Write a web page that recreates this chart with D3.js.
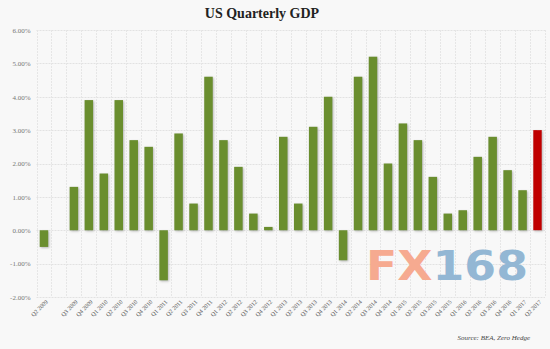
<!DOCTYPE html>
<html>
<head>
<meta charset="utf-8">
<script src="https://cdn.jsdelivr.net/npm/d3@7"></script>
<style>
  html, body { margin: 0; padding: 0; background: #f8f8f8; }
  svg { display: block; }
</style>
</head>
<body>
<script>
const categories = ["Q2 2009", "", "Q3 2009", "Q4 2009", "Q1 2010", "Q2 2010", "Q3 2010", "Q4 2010",
  "Q1 2011", "Q2 2011", "Q3 2011", "Q4 2011", "Q1 2012", "Q2 2012", "Q3 2012", "Q4 2012",
  "Q1 2013", "Q2 2013", "Q3 2013", "Q4 2013", "Q1 2014", "Q2 2014", "Q3 2014", "Q4 2014",
  "Q1 2015", "Q2 2015", "Q3 2015", "Q4 2015", "Q1 2016", "Q2 2016", "Q3 2016", "Q4 2016",
  "Q1 2017", "Q2 2017"];
const gdpValues = [-0.5, null, 1.3, 3.9, 1.7, 3.9, 2.7, 2.5, -1.5, 2.9, 0.8, 4.6, 2.7, 1.9, 0.5, 0.1,
  2.8, 0.8, 3.1, 4.0, -0.9, 4.6, 5.2, 2.0, 3.2, 2.7, 1.6, 0.5, 0.6, 2.2, 2.8, 1.8, 1.2, 3.0];
const highlightIndex = [33];
const yTicks = [-2, -1, 0, 1, 2, 3, 4, 5, 6];
const titleText = "US Quarterly GDP";
const sourceText = "Source: BEA, Zero Hedge";

(function () {
const W = 550, H = 349;
const mLeft = 36.5, mRight = 545, mTop = 30, mBottom = 297;

const svg = d3.select("body").append("svg").attr("width", W).attr("height", H);
svg.append("rect").attr("width", W).attr("height", H).attr("fill", "#f8f8f8");

const defs = svg.append("defs");
const f = defs.append("filter").attr("id", "shadow").attr("x", "-50%").attr("y", "-10%").attr("width", "200%").attr("height", "130%");
f.append("feDropShadow").attr("dx", 1).attr("dy", 1).attr("stdDeviation", 0.8)
  .attr("flood-color", "#666").attr("flood-opacity", 0.45);

const x = d3.scaleBand().domain(d3.range(categories.length)).range([mLeft, mRight]).paddingInner(0.43).paddingOuter(0.215);
const xb = d3.scaleBand().domain(d3.range(categories.length)).range([mLeft, mRight]);
const y = d3.scaleLinear().domain([-2, 6]).range([mBottom, mTop]);

// grid
const grid = svg.append("g");
grid.selectAll("line.h").data(yTicks).join("line")
  .attr("x1", mLeft).attr("x2", mRight)
  .attr("y1", d => Math.round(y(d)) + 0.5).attr("y2", d => Math.round(y(d)) + 0.5)
  .attr("stroke", "#e2e2e2").attr("stroke-width", 1).attr("stroke-dasharray", "2,1");
const vb = d3.range(categories.length + 1).map(i => i === categories.length ? mRight : xb(i));
grid.selectAll("line.v").data(vb).join("line")
  .attr("x1", d => Math.round(d) + 0.5).attr("x2", d => Math.round(d) + 0.5)
  .attr("y1", mTop).attr("y2", mBottom)
  .attr("stroke", "#e6e6e6").attr("stroke-width", 1).attr("stroke-dasharray", "2,1");

// y axis labels
const yAxis = d3.axisLeft(y).tickValues(yTicks).tickSize(0).tickPadding(6)
  .tickFormat(d => d.toFixed(2) + "%");
const ya = svg.append("g").attr("transform", `translate(${mLeft},0)`).call(yAxis);
ya.select(".domain").remove();
ya.selectAll("text").attr("font-family", "Liberation Serif, serif").attr("font-size", 7).attr("fill", "#777");

// watermark
const wm = svg.append("text").attr("x", 366).attr("y", 280)
  .attr("font-family", "DejaVu Sans, sans-serif").attr("font-weight", "bold")
  .attr("font-size", 41).attr("textLength", 162).attr("lengthAdjust", "spacingAndGlyphs");
wm.append("tspan").text("FX").attr("fill", "#f6aa90");
wm.append("tspan").text("168").attr("fill", "#93b7d4");

// bars
const data = gdpValues.map((v, i) => ({ i, v })).filter(d => d.v !== null);
svg.append("g").attr("filter", "url(#shadow)")
  .selectAll("rect").data(data).join("rect")
  .attr("x", d => x(d.i))
  .attr("width", x.bandwidth())
  .attr("y", d => y(Math.max(0, d.v)))
  .attr("height", d => Math.abs(y(d.v) - y(0)))
  .attr("fill", d => highlightIndex.includes(d.i) ? "#c00000" : "#6b8e2f");

// x axis labels
const xAxis = d3.axisBottom(x).tickSize(0).tickPadding(0).tickFormat(i => categories[i]);
const xa = svg.append("g").attr("transform", `translate(0,${mBottom + 4})`).call(xAxis);
xa.select(".domain").remove();
xa.selectAll("text")
  .attr("font-family", "Liberation Serif, serif").attr("font-size", 6).attr("fill", "#555")
  .attr("text-anchor", "end").attr("dy", "0.3em")
  .attr("transform", "translate(3,0) rotate(-45)");

// title
svg.append("text").attr("x", 262).attr("y", 18).attr("text-anchor", "middle")
  .attr("font-family", "Liberation Serif, serif").attr("font-weight", "bold").attr("font-size", 14)
  .attr("fill", "#222").text(titleText);

// source
svg.append("text").attr("x", 530).attr("y", 340).attr("text-anchor", "end")
  .attr("font-family", "Liberation Serif, serif").attr("font-style", "italic").attr("font-size", 7)
  .attr("fill", "#444").text(sourceText);
})();
</script>
</body>
</html>
